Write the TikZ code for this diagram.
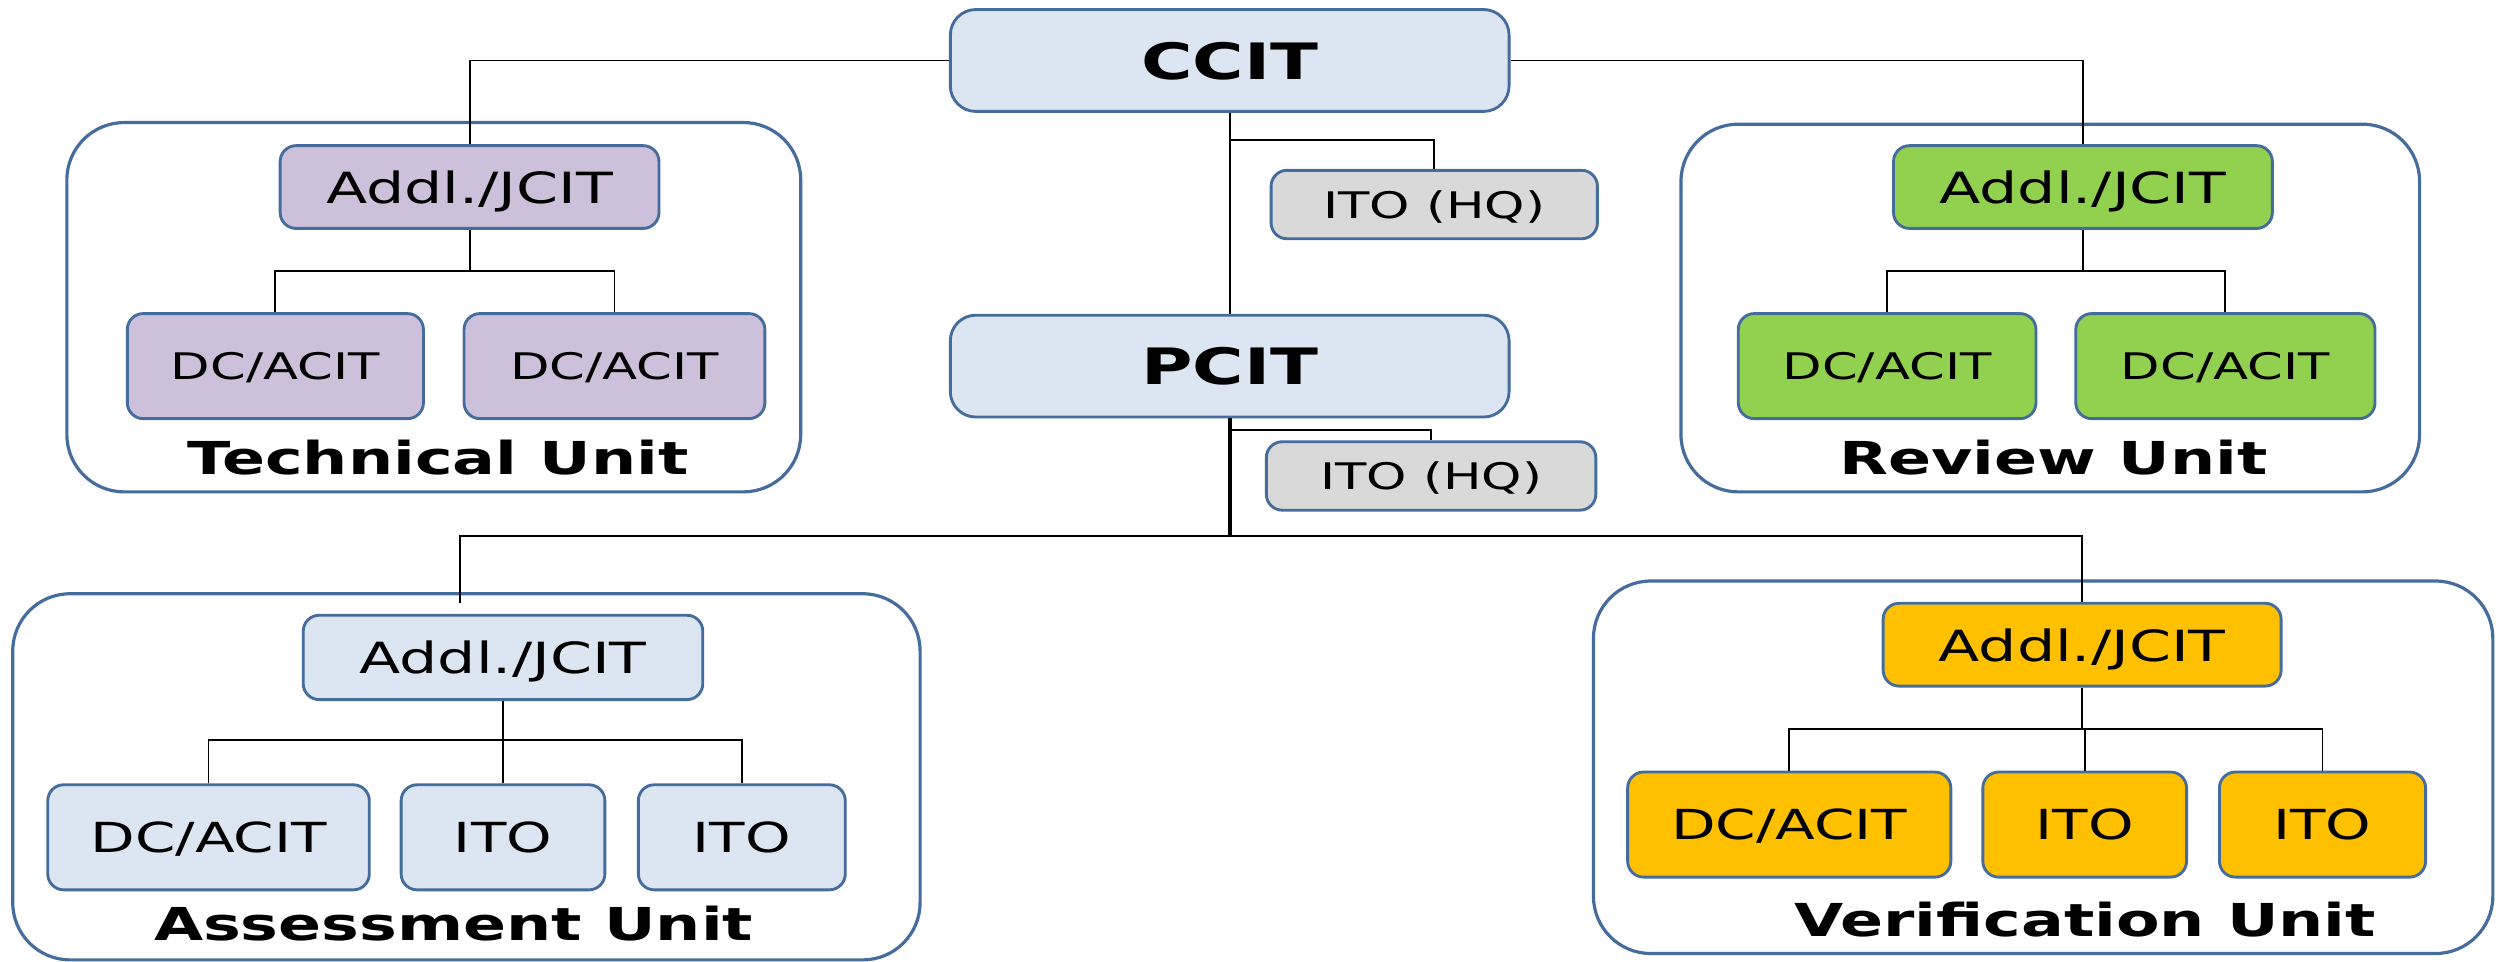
\documentclass[tikz,border=0pt]{standalone}
\usepackage{fontspec}
\setmainfont{DejaVu Sans}
\usepackage{graphicx}
\definecolor{bordc}{RGB}{68,108,156}
\definecolor{lblue}{RGB}{220,230,242}
\definecolor{lpurple}{RGB}{204,192,218}
\definecolor{lgreen}{RGB}{146,208,80}
\definecolor{lorange}{RGB}{255,192,0}
\definecolor{lgray}{RGB}{217,217,217}
\newcommand\hs[1]{\scalebox{1.4}[1]{#1}}
\begin{document}
\begin{tikzpicture}[x=1pt,y=-1pt,
  box/.style={draw=bordc, line width=1.8pt, rounded corners=10pt, inner sep=0pt, text depth=0pt},
  unitbox/.style={draw=bordc, line width=2pt, rounded corners=36pt, inner sep=0pt},
  conn/.style={draw=black, line width=1.2pt},
  bigf/.style={font=\fontsize{31.5}{36}\selectfont\bfseries},
  addlf/.style={font=\fontsize{27}{32}\selectfont},
  smallf/.style={font=\fontsize{23}{28}\selectfont},
  midf/.style={font=\fontsize{26}{30}\selectfont},
  labf/.style={font=\fontsize{28.5}{33}\selectfont\bfseries, anchor=base, inner sep=0pt},
]
\useasboundingbox (0,0) rectangle (1568,604);

% unit containers
\node[unitbox, minimum width=461pt, minimum height=232pt] (tech) at (272.5,193) {};
\node[unitbox, minimum width=464pt, minimum height=231pt] (rev) at (1288,193.5) {};
\node[unitbox, minimum width=570pt, minimum height=230pt] (ass) at (293,488) {};
\node[unitbox, minimum width=565pt, minimum height=234pt] (ver) at (1283.5,482) {};

% top level
\node[box, fill=lblue, bigf, rounded corners=16pt, minimum width=351pt, minimum height=64pt] (ccit) at (772.5,38) {\hs{CCIT}};
\node[box, fill=lblue, bigf, rounded corners=16pt, minimum width=351pt, minimum height=64pt] (pcit) at (772.5,230) {\hs{PCIT}};
\node[box, fill=lgray, smallf, minimum width=205pt, minimum height=43pt] (hq1) at (901,128.5) {\hs{ITO (HQ)}};
\node[box, fill=lgray, smallf, minimum width=207pt, minimum height=43pt] (hq2) at (899,299) {\hs{ITO (HQ)}};

% technical unit
\node[box, fill=lpurple, addlf, minimum width=238pt, minimum height=52pt] (taddl) at (295,117.5) {\hs{Addl./JCIT}};
\node[box, fill=lpurple, smallf, minimum width=186pt, minimum height=66pt] (tdc1) at (173,230) {\hs{DC/ACIT}};
\node[box, fill=lpurple, smallf, minimum width=189pt, minimum height=66pt] (tdc2) at (386,230) {\hs{DC/ACIT}};
\node[labf] (tlab) at (275,298) {\hs{Technical Unit}};

% review unit
\node[box, fill=lgreen, addlf, minimum width=238pt, minimum height=52pt] (raddl) at (1308.5,117.5) {\hs{Addl./JCIT}};
\node[box, fill=lgreen, smallf, minimum width=187pt, minimum height=66pt] (rdc1) at (1185.5,230) {\hs{DC/ACIT}};
\node[box, fill=lgreen, smallf, minimum width=188pt, minimum height=66pt] (rdc2) at (1398,230) {\hs{DC/ACIT}};
\node[labf] (rlab) at (1290,298) {\hs{Review Unit}};

% assessment unit
\node[box, fill=lblue, addlf, minimum width=251pt, minimum height=53pt] (aaddl) at (316,413) {\hs{Addl./JCIT}};
\node[box, fill=lblue, midf, minimum width=202pt, minimum height=66pt] (adc) at (131,526) {\hs{DC/ACIT}};
\node[box, fill=lblue, midf, minimum width=128pt, minimum height=66pt] (aito1) at (316,526) {\hs{ITO}};
\node[box, fill=lblue, midf, minimum width=130pt, minimum height=66pt] (aito2) at (466,526) {\hs{ITO}};
\node[labf] (alab) at (285,591) {\hs{Assessment Unit}};

% verification unit
\node[box, fill=lorange, addlf, minimum width=250pt, minimum height=52pt] (vaddl) at (1308,405) {\hs{Addl./JCIT}};
\node[box, fill=lorange, midf, minimum width=203pt, minimum height=66pt] (vdc) at (1124,518) {\hs{DC/ACIT}};
\node[box, fill=lorange, midf, minimum width=128pt, minimum height=66pt] (vito1) at (1309.6,518) {\hs{ITO}};
\node[box, fill=lorange, midf, minimum width=129.5pt, minimum height=66pt] (vito2) at (1459,518) {\hs{ITO}};
\node[labf] (vlab) at (1310,588) {\hs{Verification Unit}};

% connectors
\coordinate (cj) at (772.5,88);
\coordinate (pj2) at (772.5,270);
\coordinate (pj) at (772.5,337);
\coordinate (aend) at (289,379);
\draw[conn] (ccit.west) -| (taddl.north);
\draw[conn] (ccit.east) -| (raddl.north);
\draw[conn] (ccit.south) -- (pcit.north);
\draw[conn] (cj) -| (hq1.north);
\draw[conn, line width=2.6pt] (pcit.south) -- (pj);
\draw[conn] (pj2) -| (hq2.north);
\draw[conn] (aend) |- (pj) -| (vaddl.north);

\coordinate (tj) at (295,170);
\draw[conn] (taddl.south) -- (tj);
\draw[conn] (tdc1.north) |- (tj) -| (tdc2.north);

\coordinate (rj) at (1308.5,170);
\draw[conn] (raddl.south) -- (rj);
\draw[conn] (rdc1.north) |- (rj) -| (rdc2.north);

\coordinate (aj) at (316,465);
\draw[conn] (aaddl.south) -- (aj);
\draw[conn] (adc.north) |- (aj) -| (aito2.north);
\draw[conn] (aito1.north) -- (aito1.north |- aj);

\coordinate (vj) at (1308,458);
\draw[conn] (vaddl.south) -- (vj);
\draw[conn] (vdc.north) |- (vj) -| (vito2.north);
\draw[conn] (vito1.north) -- (vito1.north |- vj);
\end{tikzpicture}
\end{document}
